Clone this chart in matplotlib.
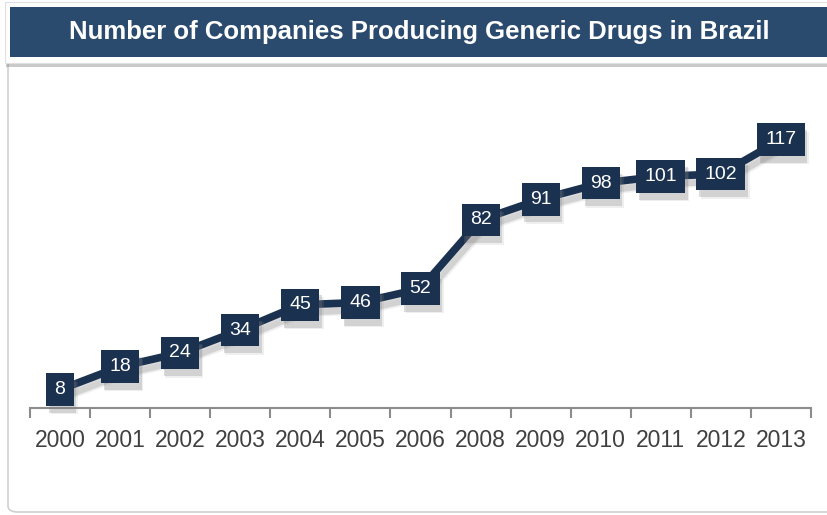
import matplotlib
matplotlib.use("Agg")
import matplotlib.pyplot as plt
import matplotlib.patheffects as pe
from matplotlib.patches import FancyBboxPatch, Rectangle
from matplotlib.path import Path
import numpy as np

years = ["2000", "2001", "2002", "2003", "2004", "2005", "2006",
         "2008", "2009", "2010", "2011", "2012", "2013"]
companies = [8, 18, 24, 34, 45, 46, 52, 82, 91, 98, 101, 102, 117]
title = "Number of Companies Producing Generic Drugs in Brazil"

navy = "#1b3150"
banner = "#2a4a6e"
plt.rcParams["font.family"] = ["Liberation Sans", "DejaVu Sans"]

W, H = 827, 515
fig = plt.figure(figsize=(W / 100, H / 100), dpi=100)

def fx(px):
    return px / W

def fy(py):
    return 1 - py / H

def label_box(x0, y0, width, height, mutation_size):
    # wider padding left/right than top/bottom
    hp = 0.42 * mutation_size
    vp = 0.4 * mutation_size
    x0, x1 = x0 - hp, x0 + width + hp
    y0, y1 = y0 - vp, y0 + height + vp
    return Path([(x0, y0), (x1, y0), (x1, y1), (x0, y1), (x0, y0)], closed=True)

# outer panel
panel = FancyBboxPatch((fx(8), fy(512)), fx(840) - fx(8), fy(60) - fy(512),
                       boxstyle="round,pad=0,rounding_size=0.012",
                       transform=fig.transFigure, facecolor="white",
                       edgecolor="#d0d0d0", lw=1.2, zorder=-3)
fig.patches.append(panel)

# title banner
box = Rectangle((fx(5), fy(63)), fx(840) - fx(5), fy(2) - fy(63),
                transform=fig.transFigure, facecolor="white",
                edgecolor="#e0e0e0", lw=0.8, zorder=-2)
box.set_path_effects([pe.SimplePatchShadow(offset=(1, -3), shadow_rgbFace="#888888", alpha=0.45),
                      pe.Normal()])
fig.patches.append(box)
fig.patches.append(Rectangle((fx(10), fy(57)), fx(840) - fx(10), fy(7) - fy(57),
                             transform=fig.transFigure, facecolor=banner,
                             edgecolor="none", zorder=-1))
fig.text(fx(419), fy(32), title, color="white", fontsize=18.5, fontweight="bold",
         ha="center", va="center", zorder=3)

ax = fig.add_axes([fx(30), fy(408), fx(811) - fx(30), fy(80) - fy(408)])
ax.set_zorder(5)
ax.patch.set_visible(False)
x = np.arange(len(years))
ax.plot(x, companies, color=navy, lw=5.5, solid_joinstyle="miter", zorder=2,
        path_effects=[pe.SimpleLineShadow(offset=(2, -5), shadow_color="#777777", alpha=0.25),
                      pe.SimpleLineShadow(offset=(3, -6), shadow_color="#999999", alpha=0.15),
                      pe.Normal()])
for xi, v in zip(x, companies):
    t = ax.text(xi, v, str(v), color="white", fontsize=14, ha="center", va="center",
                zorder=4, bbox=dict(boxstyle=label_box, facecolor=navy, edgecolor="none"))
    t.get_bbox_patch().set_path_effects([
        pe.SimplePatchShadow(offset=(2, -5), shadow_rgbFace="#777777", alpha=0.25),
        pe.SimplePatchShadow(offset=(3, -6), shadow_rgbFace="#999999", alpha=0.15),
        pe.Normal()])

ax.set_xlim(-0.5, len(years) - 0.5)
ax.set_ylim(0, 143)
for s in ["top", "right", "left"]:
    ax.spines[s].set_visible(False)
ax.spines["bottom"].set_color("#8c8c8c")
ax.spines["bottom"].set_linewidth(1.5)
ax.set_yticks([])
ax.set_xticks(x)
ax.set_xticklabels(years, fontsize=16.5, color="#404040")
ax.tick_params(axis="x", which="major", length=0, pad=15)
ax.set_xticks(np.arange(-0.5, len(years)), minor=True)
ax.tick_params(axis="x", which="minor", length=7, width=1.5, color="#8c8c8c")

fig.savefig("out.png", dpi=100)
